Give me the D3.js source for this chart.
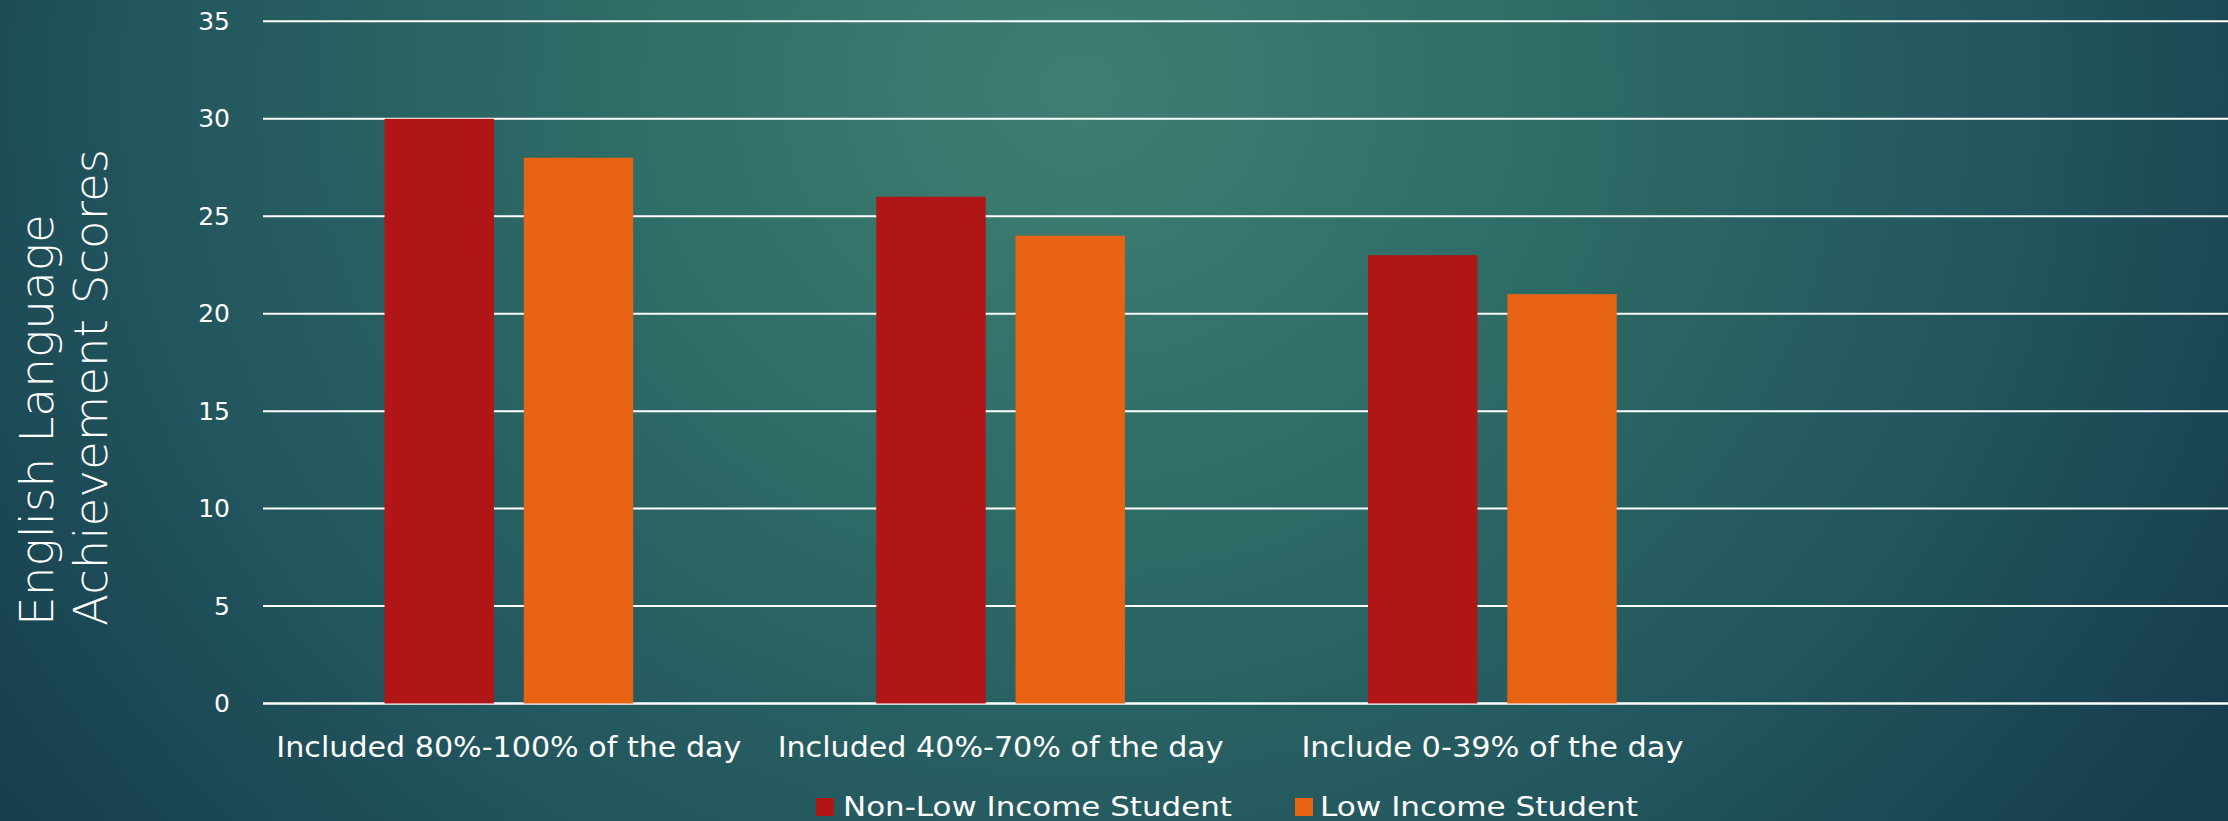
<!DOCTYPE html>
<html>
<head>
<meta charset="utf-8">
<script src="https://cdn.jsdelivr.net/npm/d3@7"></script>
<style>
  html, body { margin: 0; padding: 0; overflow: hidden; background: #1d4a58; }
  svg { display: block; }
  text { font-family: "Century Gothic", "DejaVu Sans", sans-serif; fill: #ffffff; }
</style>
</head>
<body>
<svg id="chart" width="2228" height="821"></svg>
<script>
// ---- data ----
const categories = ["Included 80%-100% of the day", "Included 40%-70% of the day", "Include 0-39% of the day", ""];
const seriesNames = ["Non-Low Income Student", "Low Income Student"];
const nonLowIncome = [30, 26, 23, null];
const lowIncome = [28, 24, 21, null];
const yTicks = [0, 5, 10, 15, 20, 25, 30, 35];
const yTitleLines = ["English Language", "Achievement Scores"];
const seriesColors = ["#b01615", "#e86414"];

// ---- layout ----
const W = 2228, H = 821;
const plot = { left: 263, right: 2230, top: 21.3, bottom: 703.5 };
const svg = d3.select("#chart");

// background gradient
const defs = svg.append("defs");
const grad = defs.append("radialGradient")
  .attr("id", "bg").attr("gradientUnits", "userSpaceOnUse")
  .attr("cx", 1080).attr("cy", 90).attr("r", 1350)
  .attr("gradientTransform", "translate(1080,90) scale(1,0.9) translate(-1080,-90)");
grad.append("stop").attr("offset", 0).attr("stop-color", "#3f7f72");
grad.append("stop").attr("offset", 0.3).attr("stop-color", "#306f68");
grad.append("stop").attr("offset", 0.7).attr("stop-color", "#22555d");
grad.append("stop").attr("offset", 1).attr("stop-color", "#163d4e");
svg.append("rect").attr("width", W).attr("height", H).attr("fill", "url(#bg)");

// scales
const x0 = d3.scaleBand().domain(categories).range([plot.left, plot.right]).paddingInner(0).paddingOuter(0);
const x1 = d3.scaleBand().domain(seriesNames).range([0, x0.bandwidth()]).paddingInner(0.2143).paddingOuter(0.8727);
const y = d3.scaleLinear().domain([0, 35]).range([plot.bottom, plot.top]);

// y axis labels
const yAxis = d3.axisLeft(y).tickValues(yTicks).tickSize(0).tickPadding(33);
const gy = svg.append("g").attr("transform", `translate(${plot.left},0)`).call(yAxis);
gy.select(".domain").remove();
gy.selectAll("text").attr("font-size", 25).attr("fill", "#ffffff")
  .attr("font-family", "'Century Gothic','DejaVu Sans',sans-serif");

// gridlines
svg.append("g").selectAll("line").data(yTicks).join("line")
  .attr("x1", plot.left).attr("x2", W)
  .attr("y1", d => y(d)).attr("y2", d => y(d))
  .attr("stroke", "#ffffff").attr("stroke-width", d => d === 0 ? 2.6 : 2);

// bars
const rows = categories.map((c, i) => ({ cat: c, vals: [nonLowIncome[i], lowIncome[i]] }));
const groups = svg.append("g").selectAll("g").data(rows).join("g")
  .attr("transform", d => `translate(${x0(d.cat)},0)`);
groups.selectAll("rect").data(d => d.vals.map((v, j) => ({ v, s: seriesNames[j], j })).filter(e => e.v != null))
  .join("rect")
  .attr("x", d => x1(d.s))
  .attr("width", x1.bandwidth())
  .attr("y", d => y(d.v))
  .attr("height", d => y(0) - y(d.v))
  .attr("fill", d => seriesColors[d.j]);

// x axis labels
const labelWidths = [465, 446, 382];
const xAxis = d3.axisBottom(x0).tickSize(0).tickPadding(0);
const gx = svg.append("g").attr("transform", `translate(0,${plot.bottom})`).call(xAxis);
gx.select(".domain").remove();
gx.selectAll("text")
  .attr("font-size", 28).attr("fill", "#ffffff")
  .attr("font-family", "'Century Gothic','DejaVu Sans',sans-serif")
  .attr("dy", null).attr("y", 53.5)
  .attr("dominant-baseline", "alphabetic")
  .each(function(d, i) {
    if (labelWidths[i]) d3.select(this).attr("textLength", labelWidths[i]).attr("lengthAdjust", "spacingAndGlyphs");
  });

// y title
const titleWidths = [412, 477];
const titleX = [53, 107];
const yTitle = svg.append("g");
yTitleLines.forEach((t, i) => {
  yTitle.append("text")
    .attr("transform", `translate(${titleX[i]},626) rotate(-90)`)
    .attr("text-anchor", "start")
    .attr("font-size", 46)
    .attr("font-weight", 300)
    .attr("font-family", "'Century Gothic','Open Sans','DejaVu Sans',sans-serif")
    .attr("textLength", titleWidths[i]).attr("lengthAdjust", "spacingAndGlyphs")
    .text(t);
});

// legend
const legendItems = [
  { name: seriesNames[0], color: seriesColors[0], sx: 816, tx: 843, tw: 389 },
  { name: seriesNames[1], color: seriesColors[1], sx: 1295, tx: 1320, tw: 318 }
];
const lg = svg.append("g");
legendItems.forEach(it => {
  lg.append("rect").attr("x", it.sx).attr("y", 798).attr("width", 18).attr("height", 18).attr("fill", it.color);
  lg.append("text").attr("x", it.tx).attr("y", 816).attr("font-size", 27)
    .attr("textLength", it.tw).attr("lengthAdjust", "spacingAndGlyphs")
    .text(it.name);
});
</script>
</body>
</html>
